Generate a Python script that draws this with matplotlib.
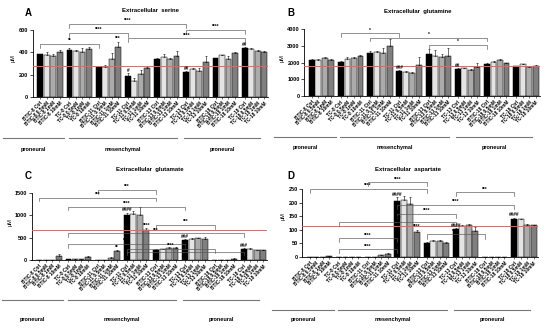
import numpy as np
import matplotlib.pyplot as plt
from matplotlib.transforms import blended_transform_factory

plt.rcParams['font.family'] = ['Liberation Sans', 'DejaVu Sans']
plt.rcParams['font.weight'] = 'bold'

# cell lines (groups) and treatments (bars in each group)
lines = ['BTIC-8', 'TC-8', 'BTIC-11', 'TC-11', 'BTIC-13', 'TC-13', 'BTIC-18', 'TC-18']
doses = ['Ctrl', '0.5mM', '1mM', '10mM']
subtypes = ['proneural', 'mesenchymal', 'proneural']

# A - serine (uM)
serine = [[382, 375, 365, 400], [421, 411, 405, 430], [272, 265, 337, 450], [191, 143, 206, 263],
          [336, 357, 336, 370], [221, 251, 233, 313], [346, 373, 343, 397], [436, 427, 415, 405]]
serine_err = [[5, 25, 20, 25], [20, 10, 30, 15], [3, 25, 60, 45], [20, 25, 35, 10],
              [15, 25, 15, 45], [10, 8, 25, 50], [5, 5, 20, 10], [10, 10, 8, 5]]
# B - glutamine
glutamine = [[2160, 2160, 2250, 2160], [2060, 2200, 2300, 2380], [2560, 2620, 2600, 3020], [1480, 1450, 1360, 1860],
             [2500, 2400, 2360, 2400], [1600, 1660, 1560, 1760], [1900, 2060, 2160, 1960], [1800, 1900, 1750, 1800]]
glutamine_err = [[80, 30, 80, 40], [60, 120, 50, 100], [120, 100, 280, 380], [60, 60, 80, 450],
                 [300, 380, 180, 500], [60, 40, 30, 200], [80, 40, 30, 40], [20, 40, 60, 40]]
# C - glutamate
glutamate = [[5, 5, 5, 100], [15, 20, 15, 70], [5, 5, 50, 200], [1000, 1020, 1000, 680],
             [230, 240, 270, 260], [440, 480, 490, 470], [5, 5, 5, 30], [255, 250, 215, 215]]
glutamate_err = [[0, 0, 0, 40], [5, 5, 5, 15], [0, 0, 10, 20], [60, 80, 180, 40],
                 [10, 10, 10, 40], [20, 10, 10, 40], [0, 0, 0, 10], [10, 10, 10, 10]]
# D - aspartate
aspartate = [[1, 1, 1, 4], [1, 1, 1, 1], [1, 1, 6, 10], [205, 210, 195, 92],
             [52, 58, 58, 50], [102, 115, 118, 95], [1, 1, 1, 1], [140, 138, 118, 116]]
aspartate_err = [[0, 0, 0, 1], [0, 0, 0, 0], [0, 0, 1, 3], [15, 15, 25, 8],
                 [3, 3, 3, 6], [3, 3, 3, 15], [0, 0, 0, 0], [5, 3, 5, 3]]

ref_levels = [275, 1800, 665, 115]

# significance brackets: (group1, group2, level, stars) between Ctrl bars
brackets_A = [(0, 2, 475, '**'), (1, 5, 654, '****'), (1, 3, 576, '****'), (3, 7, 527, '****'), (5, 7, 600, '****')]
brackets_B = [(1, 3, 3760, '*'), (2, 6, 3500, '*'), (4, 6, 3060, '*')]
brackets_C = [(0, 4, 1395, '***'), (2, 4, 1567, '***'), (1, 5, 1194, '****'), (4, 6, 784, '***'),
              (1, 7, 598, '***'), (1, 5, 358, '****'), (3, 6, 246, '****'), (3, 7, 186, '***')]
brackets_D = [(0, 4, 250, '****'), (2, 4, 275, '****'), (5, 7, 238, '***'), (3, 7, 191, '****'),
              (3, 5, 158, '****'), (1, 5, 130, '****'), (4, 6, 83, '****'), (1, 3, 69, '****'), (1, 3, 29, '****')]
# marks over single bars: (group, bar, text)
marks_A = [(2, 3, '***'), (3, 0, '#'), (5, 0, '##'), (7, 0, '##')]
marks_B = [(3, 0, '###'), (5, 0, '##')]
marks_C = [(2, 3, '**'), (3, 0, '####'), (3, 3, '****'), (5, 0, '###'), (7, 0, '###')]
marks_D = [(3, 0, '####'), (3, 3, '****'), (5, 0, '####'), (7, 0, '####')]

bar_colors = ['#000000', '#e4e4e4', '#ababab', '#7f7f7f']
W, H = 550, 328
fig = plt.figure(figsize=(5.5, 3.28), dpi=100)

unit = 6.49  # px per bar slot
xlo, xhi = -1.2, 35.1

panels = [
    # letter, title, values, errors, ymax tick, ystep, ylim top, left px, bottom px, brackets, marks,
    # subtype line px, subtype text px, title centre px
    ('A', 'Extracellular  serine', serine, serine_err, 600, 200, 700, 32.5, 97, brackets_A, marks_A, 138, 149, 150),
    ('B', 'Extracellular  glutamine', glutamine, glutamine_err, 4000, 1000, 4600, 304, 96, brackets_B, marks_B, 137, 148, 418),
    ('C', 'Extracellular  glutamate', glutamate, glutamate_err, 1500, 500, 1700, 31.5, 260, brackets_C, marks_C, 300, 319, 150),
    ('D', 'Extracellular  aspartate', aspartate, aspartate_err, 250, 50, 300, 302, 257, brackets_D, marks_D, 310, 320, 408),
]
ymax_px = {'A': 67, 'B': 66.7, 'C': 67, 'D': 68}

for k, (letter, title, vals, errs, ytop, ystep, ylim_top, left, bottom, brs, mks, line_y, text_y, tx) in enumerate(panels):
    width_px = (xhi - xlo) * unit
    height_px = ymax_px[letter] * ylim_top / ytop
    ax = fig.add_axes([left / W, 1 - bottom / H, width_px / W, height_px / H])

    xs, labels = [], []
    for g, name in enumerate(lines):
        for j, d in enumerate(doses):
            x = g * 4.5 + j
            xs.append(x)
            labels.append(name + ' ' + d)
            ax.bar(x, vals[g][j], width=0.9, color=bar_colors[j], edgecolor='black', linewidth=0.35, zorder=2)
            ax.errorbar(x, vals[g][j], yerr=[[0], [errs[g][j]]], color='black', lw=0.4,
                        capsize=1.0, capthick=0.4, zorder=3)

    ax.axhline(ref_levels[k], color='#ff5a5a', lw=0.7, zorder=4)

    tick = ylim_top * 0.05
    for g1, g2, lev, s in brs:
        x1, x2 = g1 * 4.5, g2 * 4.5
        ax.plot([x1, x1, x2, x2], [lev - tick, lev, lev, lev - tick], color='#555555', lw=0.45, zorder=5)
        ax.text((x1 + x2) / 2, lev + ylim_top * 0.008, s, ha='center', va='bottom', fontsize=3.4, zorder=6)
    for g, j, s in mks:
        ax.text(g * 4.5 + j, vals[g][j] + errs[g][j] + ylim_top * 0.005, s, ha='center', va='bottom',
                fontsize=3.4, zorder=6)

    ax.set_xlim(xlo, xhi)
    ax.set_ylim(0, ylim_top)
    ax.set_yticks(np.arange(0, ytop + 1, ystep))
    ax.set_xticks(xs)
    ax.set_xticklabels(labels, rotation=45, ha='right', rotation_mode='anchor', fontsize=3.4)
    ax.tick_params(axis='x', length=1.5, width=0.4, pad=1)
    ax.tick_params(axis='y', length=2, width=0.5, pad=1, labelsize=4)
    for sp in ['top', 'right']:
        ax.spines[sp].set_visible(False)
    ax.spines['left'].set_bounds(0, ytop)
    ax.spines['left'].set_linewidth(0.6)
    ax.spines['bottom'].set_linewidth(0.6)
    ax.set_ylabel('μM', fontsize=4, labelpad=2)

    # subtype lines below the tick labels
    tr = blended_transform_factory(ax.transData, fig.transFigure)
    spans = [(-5.8, 3.7), (4.4, 21.1), (22.2, 33.9)]
    for (a, b), name in zip(spans, subtypes):
        ax.plot([a, b], [1 - line_y / H] * 2, color='#777777', lw=0.8, transform=tr, clip_on=False)
        ax.text((a + b) / 2, 1 - text_y / H, name, transform=tr, ha='center', va='center', fontsize=4)

    fig.text(tx / W, 1 - (11 if k < 2 else 169) / H, title, ha='center', va='center', fontsize=4.3)
    lx = 28 if k % 2 == 0 else 291
    fig.text(lx / W, 1 - (13 if k < 2 else 176) / H, letter, ha='center', va='center', fontsize=7, fontweight='bold')

fig.savefig('out.png', dpi=100)
